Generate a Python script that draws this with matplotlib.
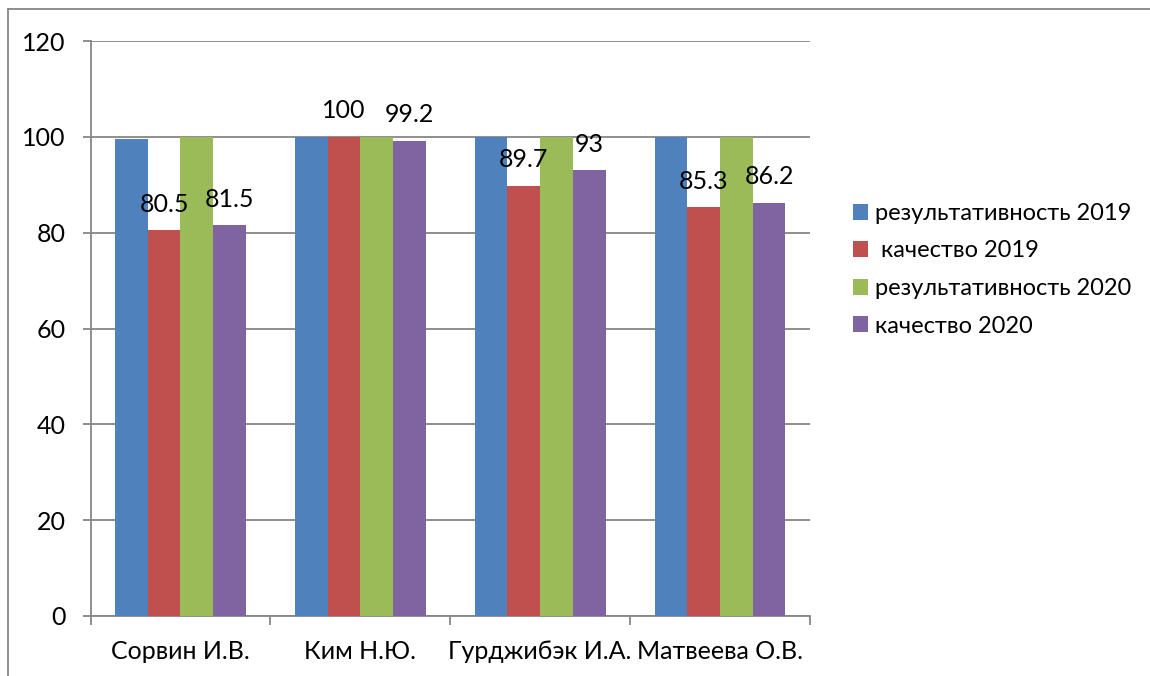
import numpy as np
import matplotlib.pyplot as plt
from matplotlib.lines import Line2D

# -------------------------------------------------
# Data
# -------------------------------------------------
teachers = ["Сорвин И.В.", "Ким Н.Ю.", "Гурджибэк И.А.", "Матвеева О.В."]
series_names = ["результативность 2019", " качество 2019",
                "результативность 2020", "качество 2020"]
result_2019 = [99.6, 100, 100, 100]
quality_2019 = [80.5, 100, 89.7, 85.3]
result_2020 = [100, 100, 100, 100]
quality_2020 = [81.5, 99.2, 93, 86.2]
y_ticks = [0, 20, 40, 60, 80, 100, 120]

colors = ["#4F81BD", "#C0504D", "#9BBB59", "#8064A2"]
grid_color = "#868686"

plt.rcParams["font.family"] = ["Lato", "DejaVu Sans"]

# -------------------------------------------------
# Figure / axes
# -------------------------------------------------
fig = plt.figure(figsize=(11.5, 6.76), dpi=100)
ax = fig.add_axes([0.0787, 0.0888, 0.6256, 0.8505])

x = np.arange(len(teachers))
width = 1 / 5.5
all_series = [result_2019, quality_2019, result_2020, quality_2020]
labeled = [False, True, False, True]

for i, (vals, name, col) in enumerate(zip(all_series, series_names, colors)):
    bars = ax.bar(x + (i - 1.5) * width, vals, width, color=col,
                  label=name, zorder=3)
    if labeled[i]:
        for b, v in zip(bars, vals):
            ax.annotate(f"{v:g}", (b.get_x() + b.get_width() / 2, v),
                        xytext=(0, 13.5), textcoords="offset points",
                        ha="center", va="baseline", fontsize=18, zorder=5)

ax.set_xlim(-0.5, len(teachers) - 0.5)
ax.set_ylim(0, 120)
ax.set_yticks(y_ticks)
ax.yaxis.grid(True, color=grid_color, linewidth=1.3, zorder=0)

ax.set_xticks(x)
ax.set_xticklabels(teachers, fontsize=18)
ax.set_xticks(np.arange(len(teachers) + 1) - 0.5, minor=True)
ax.tick_params(axis="x", which="major", length=0, pad=17)
ax.tick_params(axis="x", which="minor", length=6.5, width=1.3,
               color=grid_color)
ax.tick_params(axis="y", length=6, width=1.3, color=grid_color,
               pad=12, labelsize=18)

for side in ["top", "right"]:
    ax.spines[side].set_visible(False)
for side in ["left", "bottom"]:
    ax.spines[side].set_color(grid_color)
    ax.spines[side].set_linewidth(1.3)

leg = fig.legend(loc="center left", bbox_to_anchor=(0.7417, 0.601),
                 frameon=False, fontsize=17, handlelength=0.65,
                 handleheight=0.65, handletextpad=0.3, labelspacing=0.7,
                 borderaxespad=0, borderpad=0)

# outer chart frame
fig.add_artist(Line2D([8 / 1150, 8 / 1150], [0, 1 - 9 / 676],
                      color=grid_color, linewidth=1.3))
fig.add_artist(Line2D([8 / 1150, 1], [1 - 9 / 676, 1 - 9 / 676],
                      color=grid_color, linewidth=1.3))

fig.savefig("out.png", dpi=100)
